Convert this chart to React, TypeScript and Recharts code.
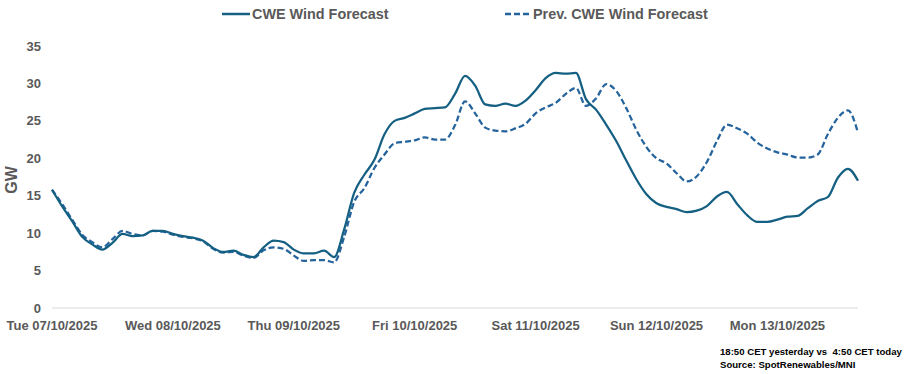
import { LineChart, Line, XAxis, YAxis } from 'recharts';

// hours since Tue 07/10/2025 00:00, every 2 h
const hours = Array.from({ length: 81 }, (_, i) => i * 2);

const dayLabels = [
  'Tue 07/10/2025',
  'Wed 08/10/2025',
  'Thu 09/10/2025',
  'Fri 10/10/2025',
  'Sat 11/10/2025',
  'Sun 12/10/2025',
  'Mon 13/10/2025',
];

const yTicks = [0, 5, 10, 15, 20, 25, 30, 35];

const windForecast = [
  15.8, 13.6, 11.6, 9.5, 8.5, 7.8, 8.7, 9.9, 9.6, 9.7,
  10.3, 10.3, 9.9, 9.6, 9.4, 9.0, 8.0, 7.5, 7.65, 7.1,
  6.8, 8.1, 9.0, 8.8, 7.8, 7.3, 7.3, 7.65, 6.8, 10.5,
  15.4, 17.8, 19.8, 23.2, 25.0, 25.4, 26.0, 26.6, 26.7, 26.8,
  28.6, 31.0, 29.7, 27.2, 27.0, 27.3, 27.0, 27.7, 29.1, 30.7,
  31.4, 31.3, 31.4, 27.9, 26.5, 24.5, 22.3, 19.7, 17.2, 15.2,
  14.0, 13.5, 13.2, 12.8, 13.0, 13.6, 14.9, 15.5, 13.9, 12.4,
  11.5, 11.5, 11.8, 12.2, 12.3, 13.3, 14.3, 14.8, 17.4, 18.6,
  17.0,
];

const prevWindForecast = [
  15.8, 13.9, 11.8, 9.8, 8.8, 8.1, 9.2, 10.3, 9.9, 9.7,
  10.3, 10.2, 9.8, 9.5, 9.3, 8.9, 7.9, 7.4, 7.5, 7.0,
  6.7, 7.7, 8.1, 7.9, 7.0, 6.3, 6.4, 6.4, 6.1, 9.5,
  14.2, 16.0, 18.7, 20.5, 22.0, 22.2, 22.4, 22.8, 22.5, 22.5,
  24.4, 27.6, 26.0, 24.1, 23.7, 23.6, 24.0, 24.6, 26.0, 26.8,
  27.4, 28.6, 29.4, 27.0, 28.0, 29.9, 29.0, 26.7, 23.8, 21.5,
  20.0, 19.3, 18.0, 16.9, 17.6, 19.5, 22.3, 24.5, 24.0, 23.3,
  22.1, 21.3, 20.8, 20.5, 20.1, 20.1, 20.5, 23.2, 25.4, 26.4,
  23.4,
];

const data = hours.map((h, i) => ({
  h,
  cur: windForecast[i],
  prev: prevWindForecast[i],
}));

const FONT = '"Liberation Sans Narrow", "Arial Narrow", "Liberation Sans", sans-serif';
const GREY = '#595959';
const SOLID = '#156082';
const DASHED = '#24639c';

const App = () => {
  return (
    <div style={{ position: 'absolute', left: 0, top: 0, width: 909, height: 374, background: '#fff', fontFamily: FONT }}>
      <div style={{ position: 'absolute', top: 4, left: 0, width: 909, height: 20, fontSize: 14.4, fontWeight: 'bold', color: GREY }}>
        <div style={{ position: 'absolute', left: 222, top: 0, display: 'flex', alignItems: 'center' }}>
          <svg width={28} height={20}>
            <line x1={0} y1={10} x2={28} y2={10} stroke={SOLID} strokeWidth={2.5} />
          </svg>
          <span style={{ marginLeft: 2 }}>CWE Wind Forecast</span>
        </div>
        <div style={{ position: 'absolute', left: 505, top: 0, display: 'flex', alignItems: 'center' }}>
          <svg width={26} height={20}>
            <line x1={0} y1={10} x2={26} y2={10} stroke={DASHED} strokeWidth={2.5} strokeDasharray="6 3" />
          </svg>
          <span style={{ marginLeft: 2 }}>Prev. CWE Wind Forecast</span>
        </div>
      </div>

      <div style={{ position: 'absolute', left: 2, top: 168, width: 20, height: 24, display: 'flex', alignItems: 'center', justifyContent: 'center' }}>
        <span style={{ transform: 'rotate(-90deg)', fontSize: 16, fontWeight: 'bold', color: GREY, whiteSpace: 'nowrap' }}>GW</span>
      </div>

      <LineChart
        width={909}
        height={374}
        data={data}
        margin={{ top: 46, right: 51, left: 0, bottom: 36 }}
        style={{ position: 'absolute', left: 0, top: 0 }}
      >
        <XAxis
          dataKey="h"
          type="number"
          domain={[0, 160]}
          ticks={[0, 24, 48, 72, 96, 120, 144]}
          tickFormatter={(v: number) => dayLabels[Math.round(v / 24)]}
          interval={0}
          height={30}
          tickLine={false}
          tickSize={0}
          tickMargin={13}
          axisLine={{ stroke: '#d9d9d9', strokeWidth: 1 }}
          tick={{ fill: GREY, fontSize: 13, fontWeight: 'bold', fontFamily: FONT }}
        />
        <YAxis
          domain={[0, 35]}
          ticks={yTicks}
          width={52}
          axisLine={false}
          tickLine={false}
          tickSize={0}
          tickMargin={11}
          tick={{ fill: GREY, fontSize: 13, fontWeight: 'bold', fontFamily: FONT }}
        />
        <Line
          dataKey="prev"
          type="monotone"
          stroke={DASHED}
          strokeWidth={2.25}
          strokeDasharray="6 3"
          dot={false}
          isAnimationActive={false}
        />
        <Line
          dataKey="cur"
          type="monotone"
          stroke={SOLID}
          strokeWidth={2.25}
          dot={false}
          isAnimationActive={false}
        />
      </LineChart>

      <div style={{ position: 'absolute', left: 720, top: 345, fontSize: 9.6, fontWeight: 'bold', color: '#000', lineHeight: '13px', whiteSpace: 'pre' }}>
        <div>18:50 CET yesterday vs  4:50 CET today</div>
        <div>Source: SpotRenewables/MNI</div>
      </div>
    </div>
  );
};

export default App;
